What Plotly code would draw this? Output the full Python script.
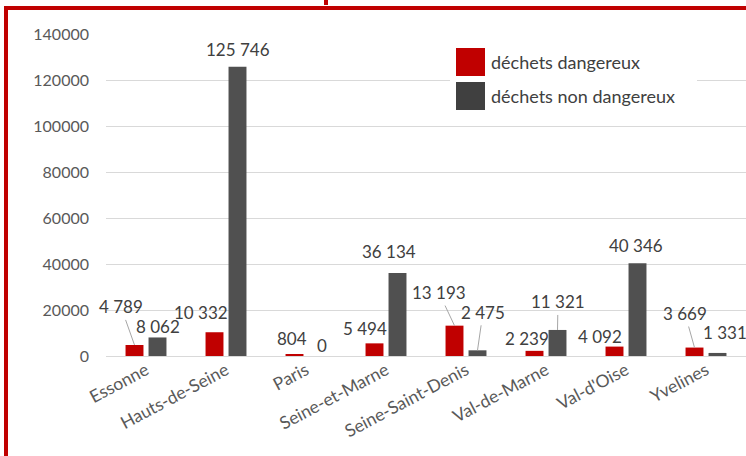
import plotly.graph_objects as go

categories = ["Essonne", "Hauts-de-Seine", "Paris", "Seine-et-Marne",
              "Seine-Saint-Denis", "Val-de-Marne", "Val-d'Oise", "Yvelines"]
dangereux = [4789, 10332, 804, 5494, 13193, 2239, 4092, 3669]
non_dangereux = [8062, 125746, 0, 36134, 2475, 11321, 40346, 1331]
series_names = ["déchets dangereux", "déchets non dangereux"]
y_ticks = [0, 20000, 40000, 60000, 80000, 100000, 120000, 140000]

RED = "#C00000"
DARK = "#505050"
W, H = 746, 456
L, R, T, B = 106, 0, 34, 100
PW, PH = W - L - R, H - T - B

def px(x):
    return (x - L) / PW

def py(y):
    return (H - B - y) / PH

def fmt(v):
    return f"{v:,}".replace(",", " ")

fig = go.Figure()
fig.add_trace(go.Bar(x=categories, y=dangereux, name=series_names[0],
                     marker=dict(color=RED, line=dict(width=0))))
fig.add_trace(go.Bar(x=categories, y=non_dangereux, name=series_names[1],
                     marker=dict(color=DARK, line=dict(width=0))))

# label placement: (ax, ay, leader) per bar, pixel offsets of label centre from bar top
place_red = [(-13.5, -38, True), (-13.5, -20, False), (-2.5, -16, False), (-9.5, -15, False),
             (-15.5, -33, True), (-7.5, -12, False), (-14.5, -10, False), (-9.5, -34, True)]
place_dark = [(0, -11, False), (0, -17, False), (4.5, -11, False), (-8.5, -21, False),
              (5.5, -38, True), (0.5, -28, True), (-1.5, -18, False), (7.5, -20, False)]

annotations = []
for vals, places, shift in ((dangereux, place_red, -11.5), (non_dangereux, place_dark, 11.5)):
    for cat, v, (ax, ay, leader) in zip(categories, vals, places):
        annotations.append(dict(
            x=cat, y=v, xref="x", yref="y", xshift=shift,
            text=fmt(v), showarrow=True, ax=ax, ay=ay,
            arrowhead=0, arrowwidth=1, standoff=0, startstandoff=1,
            arrowcolor="#A6A6A6" if leader else "rgba(0,0,0,0)",
            font=dict(family="Lato", size=17, color="#404040"),
        ))

# custom legend
legend_colors = [RED, "#404040"]
legend_y = [62, 96]
shapes = [
    dict(type="rect", xref="paper", yref="paper", x0=px(450), x1=px(697),
         y0=py(112), y1=py(40), fillcolor="white", line=dict(width=0), layer="above"),
]
for name, col, yc in zip(series_names, legend_colors, legend_y):
    shapes.append(dict(type="rect", xref="paper", yref="paper", x0=px(456), x1=px(485),
                       y0=py(yc + 14), y1=py(yc - 14), fillcolor=col, line=dict(width=0),
                       layer="above"))
    annotations.append(dict(x=px(489), y=py(yc), xref="paper", yref="paper",
                            text=name, showarrow=False, xanchor="left", yanchor="middle",
                            font=dict(family="Lato", size=18, color="#404040")))

# red frame
shapes += [
    dict(type="rect", xref="paper", yref="paper", x0=px(4), x1=px(8), y0=py(H), y1=py(6),
         fillcolor=RED, line=dict(width=0), layer="above"),
    dict(type="rect", xref="paper", yref="paper", x0=px(4), x1=px(W), y0=py(10), y1=py(6),
         fillcolor=RED, line=dict(width=0), layer="above"),
    dict(type="rect", xref="paper", yref="paper", x0=px(324), x1=px(328), y0=py(5), y1=py(0),
         fillcolor=RED, line=dict(width=0), layer="above"),
]

fig.update_layout(
    width=W, height=H,
    margin=dict(l=L, r=R, t=T, b=B, pad=0, autoexpand=False),
    paper_bgcolor="white", plot_bgcolor="white",
    barmode="group", bargap=0.425, bargroupgap=0.22,
    showlegend=False,
    annotations=annotations, shapes=shapes,
    xaxis=dict(tickangle=-28, tickfont=dict(family="Lato", size=17.5, color="#595959"),
               range=[-0.5, len(categories) - 0.5],
               showgrid=False, showline=False, ticks="", automargin=False),
    yaxis=dict(range=[0, 140000], tickvals=y_ticks, ticktext=[str(t) for t in y_ticks],
               tickfont=dict(family="Lato", size=16, color="#595959"),
               showgrid=True, gridcolor="#D9D9D9", gridwidth=1,
               zeroline=True, zerolinecolor="#D9D9D9", zerolinewidth=1,
               showline=False, ticks="", ticklabelstandoff=16, automargin=False),
)

fig.write_html("out.html", config={"displayModeBar": False},
               post_script="document.body.style.margin='0';document.body.style.overflow='hidden';")
